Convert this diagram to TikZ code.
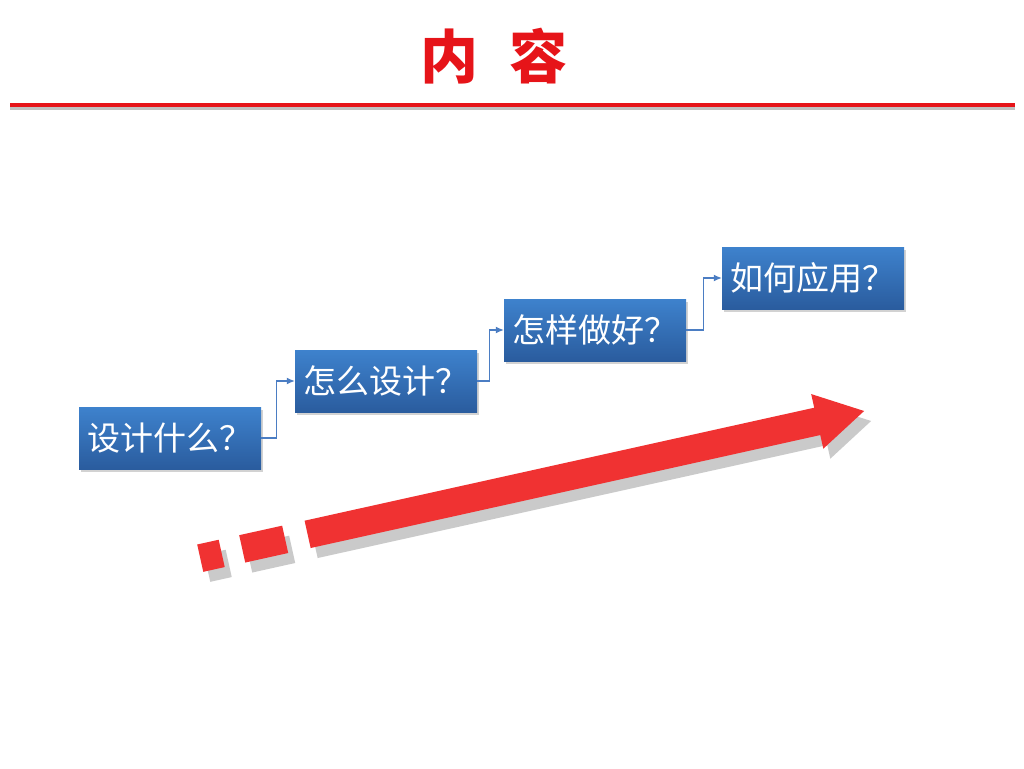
\documentclass[tikz,border=0pt]{standalone}
\usepackage{fontspec}
\newfontfamily\cjk{Noto Sans CJK SC}
\usetikzlibrary{shadows,arrows.meta}
\definecolor{titlered}{RGB}{230,20,25}
\definecolor{boxtop}{RGB}{62,130,205}
\definecolor{boxbot}{RGB}{42,92,158}
\definecolor{linkblue}{RGB}{75,125,195}
\definecolor{arrowred}{RGB}{240,50,50}
\definecolor{shadowgray}{RGB}{150,150,150}
\begin{document}
\begin{tikzpicture}[x=1pt, y=-1pt,
    qbox/.style={top color=boxtop, bottom color=boxbot, minimum width=182pt,
      minimum height=62pt, inner sep=0pt, text=white,
      font=\cjk\fontsize{33}{33}\selectfont,
      drop shadow={shadow xshift=2pt, shadow yshift=-3pt, opacity=0.35}},
    link/.style={draw=linkblue, line width=1.2pt, -{Latex[length=8pt,width=7pt]}}]
  \useasboundingbox[fill=white] (0,0) rectangle (1024,768);

  % Title
  \node[text=titlered, font=\cjk\bfseries\fontsize{58}{58}\selectfont] (title) at (494,56) {内\hspace{0.55em}容};
  \fill[shadowgray!60] (10,106) rectangle (1015,110);
  \draw[titlered, line width=4pt] (10,105) -- (1015,105);

  % Questions
  \node[qbox] (what) at (170,438) {设计什么？};
  \node[qbox] (how) at (386,381) {怎么设计？};
  \node[qbox] (well) at (595,330) {怎样做好？};
  \node[qbox] (use) at (813,278) {如何应用？};

  \draw[link] (what.east) -- ++(15,0) |- (how.west);
  \draw[link] (how.east) -- ++(12,0) |- (well.west);
  \draw[link] (well.east) -- ++(17,0) |- (use.west);

  % Big arrow
  \foreach \dx/\dy/\col/\op in {7/10/shadowgray/0.5, 0/0/arrowred/1} {
    \begin{scope}[shift={(210+\dx,556+\dy)}, rotate=12.5, fill=\col, opacity=\op]
      \fill (-10,-14) rectangle (12,14);
      \fill (33,-14) rectangle (77,14);
      \fill (100,-14) -- (622,-14) -- (622,-28) -- (670,0) -- (622,28) -- (622,14) -- (100,14) -- cycle;
    \end{scope}
  }
\end{tikzpicture}
\end{document}
